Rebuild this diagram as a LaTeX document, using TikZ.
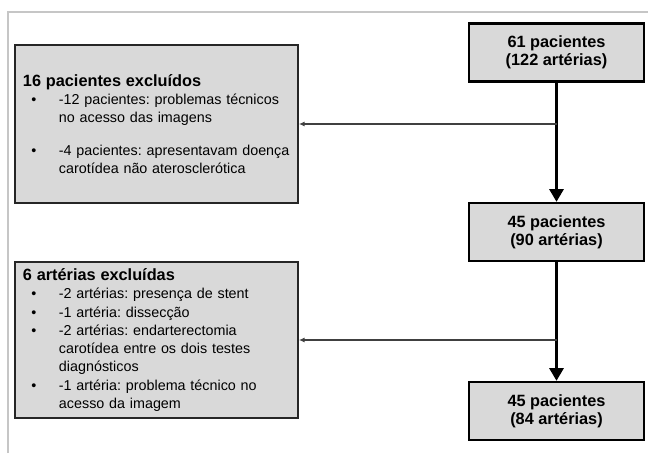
\documentclass[tikz,border=0pt]{standalone}
\usepackage{fontspec}
\setmainfont{Liberation Sans}
\usetikzlibrary{arrows.meta}

\definecolor{boxgray}{RGB}{217,217,217}
\newcommand{\blt}{\makebox[25.6pt][l]{\hspace{6pt}\textbullet}}
\newcommand{\cnt}{\hspace*{25.6pt}}
\newcommand{\ttl}[1]{{\bfseries\fontsize{11.6}{13.2}\selectfont #1}}

\begin{document}
\begin{tikzpicture}[x=0.025cm, y=-0.025cm,
  main/.style={draw=black, line width=1.7pt, fill=boxgray, minimum width=4.375cm, minimum height=1.45cm, align=center, font=\bfseries\fontsize{11.6}{12.8}\selectfont},
  excl/.style={draw=black!85, line width=1.2pt, fill=boxgray, text width=6.675cm, inner xsep=0.2cm, align=left, font=\frenchspacing\fontsize{10.2}{13}\selectfont},
  flow/.style={line width=1.9pt, -{Triangle[length=9pt, width=10pt]}},
  side/.style={line width=1.1pt, draw=black!75, -{Latex[length=4pt, width=3.5pt]}}]
\useasboundingbox (0,0) rectangle (648,453);
% draws frame
\draw[gray!45, line width=0.8pt] (8,453) -- (8,12) -- (648,12);
% draws boxes
\node[main] (p61) at (556.5,52.5) {61 pacientes\\(122 artérias)};
\node[main] (p45a) at (556.5,232) {45 pacientes\\(90 artérias)};
\node[main] (p45b) at (556.5,411) {45 pacientes\\(84 artérias)};
\node[excl, minimum height=3.95cm] (ex16) at (156.5,124) {\ttl{16 pacientes excluídos}\\
\blt -12 pacientes: problemas técnicos\\
\cnt no acesso das imagens\\[10pt]
\blt -4 pacientes: apresentavam doença\\
\cnt carotídea não aterosclerótica};
\node[excl, minimum height=3.9cm] (ex6) at (156.5,340) {\ttl{6 artérias excluídas}\\
\blt -2 artérias: presença de stent\\
\blt -1 artéria: dissecção\\
\blt -2 artérias: endarterectomia\\
\cnt carotídea entre os dois testes\\
\cnt diagnósticos\\
\blt -1 artéria: problema técnico no\\
\cnt acesso da imagem};
% draws arrows
\coordinate (j16) at (p61.south |- ex16.east);
\coordinate (j6) at (p45a.south |- ex6.east);
\draw[flow] (p61) -- (p45a);
\draw[flow] (p45a) -- (p45b);
\draw[side] (j16) -- (ex16);
\draw[side] (j6) -- (ex6);
\end{tikzpicture}
\end{document}
